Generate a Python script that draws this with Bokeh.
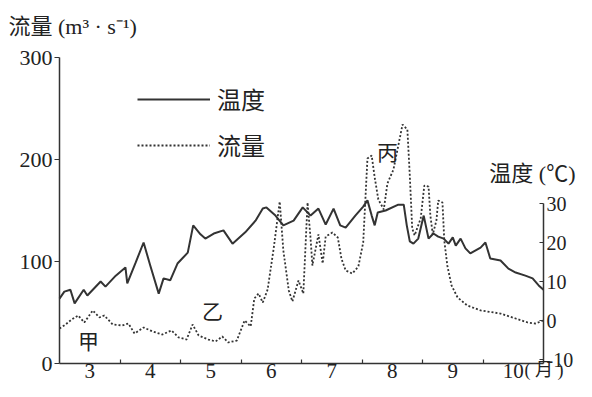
from bokeh.plotting import figure
from bokeh.models import Range1d, LinearAxis, FixedTicker, Label, Legend, LegendItem
from bokeh.embed import file_html
from bokeh.resources import INLINE

# ---- data ----
# x: continuous month position (3.0 = start of March, 11.0 = end of October)
temp_x = [3.00, 3.08, 3.18, 3.25, 3.40, 3.46, 3.68, 3.76, 3.93, 4.09, 4.12, 4.26, 4.39, 4.50,
          4.64, 4.72, 4.83, 4.95, 5.12, 5.21, 5.33, 5.41, 5.55, 5.71, 5.86, 6.07, 6.24, 6.36,
          6.42, 6.57, 6.70, 6.87, 7.02, 7.15, 7.28, 7.40, 7.53, 7.64, 7.73, 7.89, 8.02, 8.09,
          8.16, 8.21, 8.26, 8.39, 8.60, 8.69, 8.74, 8.79, 8.85, 8.93, 9.02, 9.10, 9.18, 9.26,
          9.35, 9.43, 9.50, 9.55, 9.63, 9.71, 9.79, 9.96, 10.04, 10.12, 10.29, 10.42, 10.54,
          10.70, 10.82, 10.92, 11.00]
temp_c = [5.6, 7.4, 7.9, 4.4, 7.9, 6.4, 10.0, 8.7, 11.5, 13.6, 9.5, 14.9, 20.0, 14.1,
          6.9, 10.8, 10.3, 14.6, 17.4, 24.4, 22.1, 21.0, 22.3, 23.1, 19.7, 22.6, 25.6, 28.7,
          29.0, 26.9, 24.4, 25.6, 29.0, 26.9, 28.7, 24.6, 28.7, 24.4, 23.8, 26.9, 29.2, 30.8,
          26.9, 24.4, 27.7, 28.2, 29.7, 29.7, 24.4, 20.3, 19.7, 21.0, 26.9, 21.0, 22.3, 21.5,
          21.0, 19.7, 21.3, 19.2, 21.0, 18.5, 17.2, 18.7, 20.0, 15.9, 15.4, 13.3, 12.3,
          11.5, 10.8, 9.0, 7.9]

flow_x = [3.00, 3.10, 3.20, 3.31, 3.41, 3.55, 3.66, 3.74, 3.88, 4.04, 4.14, 4.24, 4.39, 4.54,
          4.70, 4.85, 4.97, 5.10, 5.20, 5.30, 5.46, 5.58, 5.69, 5.79, 5.93, 6.06, 6.16, 6.22,
          6.29, 6.36, 6.44, 6.54, 6.64, 6.70, 6.79, 6.85, 6.95, 7.03, 7.10, 7.15, 7.18, 7.28,
          7.35, 7.40, 7.51, 7.60, 7.66, 7.73, 7.84, 7.94, 8.02, 8.09, 8.16, 8.21, 8.27, 8.36,
          8.42, 8.52, 8.60, 8.67, 8.75, 8.79, 8.83, 8.87, 8.97, 9.03, 9.10, 9.13, 9.17, 9.23,
          9.26, 9.33, 9.36, 9.41, 9.48, 9.58, 9.74, 9.96, 10.29, 10.54, 10.74, 10.87, 11.00]
flow_v = [34.3, 38.2, 43.1, 47.1, 40.2, 52.0, 45.1, 47.1, 38.2, 37.3, 39.2, 29.4, 35.3, 31.4,
          28.4, 32.4, 25.5, 23.5, 38.2, 27.5, 23.5, 21.6, 26.5, 20.6, 22.5, 42.2, 36.3, 63.7,
          68.6, 59.8, 72.5, 112.7, 158.8, 110.8, 71.6, 60.8, 81.4, 68.6, 157.8, 122.5, 96.1, 126.5,
          98.0, 124.5, 128.4, 123.5, 102.9, 91.2, 88.2, 95.1, 118.6, 201.0, 203.9, 182.4, 160.8, 151.0,
          176.5, 190.2, 213.7, 234.3, 229.4, 184.3, 132.4, 125.5, 142.2, 174.5, 173.5, 145.1, 126.5, 140.2,
          159.8, 157.8, 120.6, 96.1, 76.5, 64.7, 56.9, 52.0, 49.0, 44.1, 40.2, 39.2, 42.2]

months = [3, 4, 5, 6, 7, 8, 9, 10]
month_labels = ["3", "4", "5", "6", "7", "8", "9", "10"]
flow_ticks = [0, 100, 200, 300]
temp_ticks = [-10, 0, 10, 20, 30]
temp_tick_labels = ["-10", "0", "10", "20", "30"]

FONT = "Liberation Serif, Noto Sans CJK SC"
TXT = "#222222"
LINE = "#333333"

W, H = 576, 381
# pixel geometry of the plotting area
X0, PX_PER_MONTH = 59, 60.5          # x pixel of month 3.0
Y0, PX_PER_FLOW = 363, 1.02          # y pixel of flow 0
T0, PX_PER_DEG = 320, 3.9            # y pixel of 0 degC


def fx(px):
    return 3 + (px - X0) / PX_PER_MONTH


def fy(py):
    return (Y0 - py) / PX_PER_FLOW


def ft(py):
    return (T0 - py) / PX_PER_DEG


p = figure(width=W, height=H, output_backend="svg", toolbar_location=None,
           x_range=Range1d(fx(0), fx(W)), y_range=Range1d(fy(H), fy(0)),
           x_axis_location=None, y_axis_location=None, min_border=0,
           background_fill_color="white", border_fill_color="white")
p.outline_line_color = None
p.grid.visible = False
p.extra_y_ranges = {"temp": Range1d(ft(H), ft(0))}


def style_axis(ax, size="22px"):
    ax.axis_line_color = LINE
    ax.axis_line_width = 1.5
    ax.major_tick_line_color = LINE
    ax.major_tick_line_width = 1.2
    ax.minor_tick_line_color = LINE
    ax.minor_tick_line_width = 1.2
    ax.major_label_text_font = FONT
    ax.major_label_text_font_size = size
    ax.major_label_text_color = TXT


# bottom axis: labels centred in each month, tick marks at month boundaries
xa = LinearAxis(fixed_location=0, bounds=(3, 11),
                ticker=FixedTicker(ticks=[m + 0.5 for m in months], minor_ticks=months[1:]))
style_axis(xa, "21px")
xa.major_label_overrides = {m + 0.5: lab for m, lab in zip(months, month_labels)}
xa.major_tick_in = 0
xa.major_tick_out = 0
xa.minor_tick_in = 4
xa.minor_tick_out = 0
xa.major_label_standoff = 0
p.add_layout(xa, "below")

ya = LinearAxis(fixed_location=3, bounds=(0, 300), ticker=FixedTicker(ticks=flow_ticks))
style_axis(ya, "22px")
ya.major_tick_in = 0
ya.major_tick_out = 5
ya.minor_tick_in = 0
ya.minor_tick_out = 0
ya.major_label_standoff = 2
p.add_layout(ya, "left")

ra = LinearAxis(fixed_location=11, y_range_name="temp", bounds=(ft(Y0), 30),
                ticker=FixedTicker(ticks=temp_ticks))
style_axis(ra, "20px")
ra.major_label_overrides = {t: lab for t, lab in zip(temp_ticks, temp_tick_labels)}
ra.major_tick_in = 4
ra.major_tick_out = 0
ra.minor_tick_in = 0
ra.minor_tick_out = 0
ra.major_label_standoff = 3
p.add_layout(ra, "right")

r_t = p.line(temp_x, temp_c, y_range_name="temp", line_color=LINE, line_width=2)
r_f = p.line(flow_x, flow_v, line_color="#333333", line_width=1.8, line_dash="2 2")

legend = Legend(items=[LegendItem(label="温度", renderers=[r_t]),
                       LegendItem(label="流量", renderers=[r_f])],
                location=(137, 219), orientation="vertical",
                glyph_width=73, glyph_height=30, label_height=30, label_standoff=7,
                spacing=11, padding=0, margin=0, border_line_color=None,
                background_fill_alpha=0, label_text_font=FONT,
                label_text_font_size="24px", label_text_color=TXT)
p.add_layout(legend)


def add_label(text, px, py, align="center", baseline="middle", size="22px"):
    p.add_layout(Label(x=fx(px), y=fy(py), text=text, text_align=align,
                       text_baseline=baseline, text_font=FONT, text_font_size=size,
                       text_color=TXT))


add_label("( 月 )", 524, 369, align="left", baseline="middle", size="18px")
add_label("流量 (m³ · s⁻¹)", 8, 26, align="left")
add_label("温度 (℃)", 575, 173, align="right")
add_label("甲", 88, 341, size="21px")
add_label("乙", 212, 311, size="21px")
add_label("丙", 387, 152, size="21px")

open("out.html", "w").write(file_html(p, INLINE))
